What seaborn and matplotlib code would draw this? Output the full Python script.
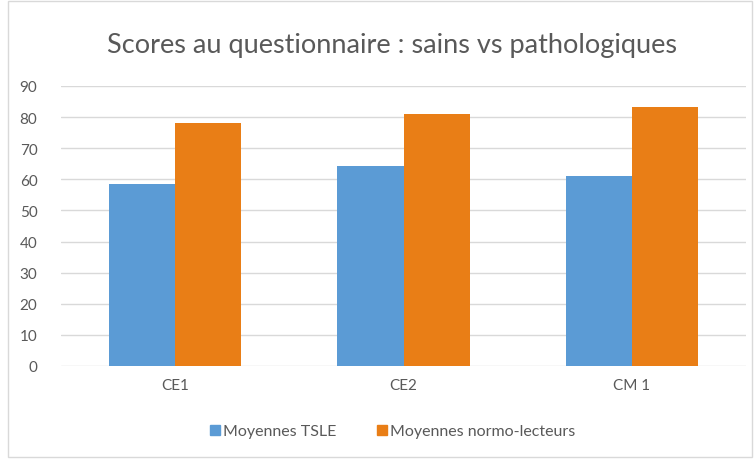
import pandas as pd
import matplotlib.pyplot as plt
import seaborn as sns
from matplotlib.lines import Line2D
from matplotlib.patches import Rectangle

# Données
classes = ['CE1', 'CE2', 'CM 1']
moyennes_tsle = [58.5, 64.4, 61.1]
moyennes_normo = [78.0, 81.0, 83.3]
series = ['Moyennes TSLE', 'Moyennes normo-lecteurs']
couleurs = ['#5B9BD5', '#E97E16']

df = pd.DataFrame({
    'classe': classes * 2,
    'score': moyennes_tsle + moyennes_normo,
    'serie': [series[0]] * 3 + [series[1]] * 3,
})

sns.set_style('white')
plt.rcParams['font.family'] = ['Lato', 'DejaVu Sans']

fig = plt.figure(figsize=(7.55, 4.6), dpi=100)
ax = fig.add_axes([61 / 755, 1 - 367 / 460, 685 / 755, 280 / 460])

sns.barplot(data=df, x='classe', y='score', hue='serie', palette=couleurs,
            saturation=1, width=0.58, gap=0, dodge=True, legend=False,
            linewidth=0, ax=ax, zorder=3)

ax.set_ylim(0, 90)
ax.set_yticks(range(0, 91, 10))
ax.grid(axis='y', color='#D9D9D9', linewidth=1, zorder=0)
ax.set_axisbelow(True)
for s in ax.spines.values():
    s.set_visible(False)
ax.tick_params(axis='both', length=0, colors='#595959', labelsize=11)
ax.tick_params(axis='y', pad=17)
ax.tick_params(axis='x', pad=9)
ax.set_xlabel('')
ax.set_ylabel('')

fig.text(392 / 755, 1 - 45 / 460, 'Scores au questionnaire : sains vs pathologiques',
         ha='center', va='center', fontsize=19.5, color='#595959')

handles = [Line2D([], [], marker='s', linestyle='', markersize=7, color=c) for c in couleurs]
fig.legend(handles, series, loc='center', bbox_to_anchor=(392 / 755, 1 - 432 / 460),
           ncol=2, frameon=False, fontsize=11.5, labelcolor='#595959',
           handletextpad=0.1, columnspacing=2.5, handlelength=0.8)

fig.patches.append(Rectangle((8 / 755, 2 / 460), 744 / 755, 456 / 460,
                             transform=fig.transFigure, fill=False,
                             edgecolor='#D9D9D9', linewidth=1))

plt.savefig('out.png', dpi=100)
